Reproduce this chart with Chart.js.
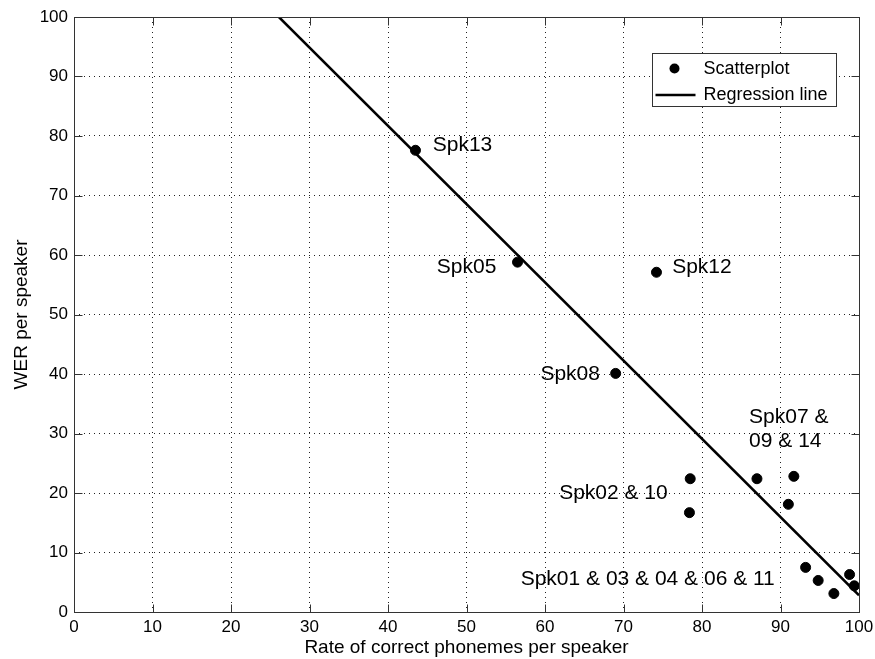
<!DOCTYPE html>
<html lang="en">
<head>
<meta charset="UTF-8">
<title>WER per speaker</title>
<script src="https://cdn.jsdelivr.net/npm/chart.js"></script>
<style>
  html, body { margin: 0; padding: 0; background: #fff; }
  canvas { display: block; }
</style>
</head>
<body>
<canvas id="werChart" width="875" height="659"></canvas>
<script>
  // rate of correct phonemes (%) and word error rate (%) for each speaker
  const phonemeRate = [43.5, 56.5, 74.2, 69.0, 78.5, 78.4, 87.0, 91.7, 91.0, 93.2, 94.8, 96.8, 98.8, 99.4];
  const werValues   = [77.6, 58.8, 57.1, 40.1, 22.4, 16.7, 22.4, 22.8, 18.1, 7.5, 5.3, 3.1, 6.3, 4.4];

  // end points of the fitted regression line
  const regX = [26.1, 100];
  const regY = [100, 2.8];

  const xTicks = [0, 10, 20, 30, 40, 50, 60, 70, 80, 90, 100];
  const yTicks = [0, 10, 20, 30, 40, 50, 60, 70, 80, 90, 100];

  // speaker labels placed in data units
  const labelTexts = ['Spk13', 'Spk05', 'Spk12', 'Spk08', 'Spk07 &\n09 & 14', 'Spk02 & 10', 'Spk01 & 03 & 04 & 06 & 11'];
  const labelX     = [45.7, 53.8, 76.2, 67.0, 86.0, 61.8, 56.9];
  const labelY     = [78.4, 57.9, 57.9, 40.0, 32.8, 19.9, 5.5];
  const labelAlign = ['left', 'right', 'left', 'right', 'left', 'left', 'left'];

  const FONT = "'Liberation Sans', Arial, sans-serif";
  Chart.defaults.font.family = FONT;
  Chart.defaults.color = '#000';

  const px = v => Math.round(v) + 0.5;

  // text next to the points
  const speakerText = {
    id: 'speakerText',
    afterDatasetsDraw(chart) {
      const {ctx, scales: {x, y}} = chart;
      ctx.save();
      ctx.font = '21px ' + FONT;
      ctx.fillStyle = '#000';
      ctx.textBaseline = 'middle';
      labelTexts.forEach((t, i) => {
        ctx.textAlign = labelAlign[i];
        const lx = x.getPixelForValue(labelX[i]);
        const ly = y.getPixelForValue(labelY[i]);
        t.split('\n').forEach((line, j) => ctx.fillText(line, lx, ly + j * 24));
      });
      ctx.restore();
    }
  };

  // box around the axes, inward tick marks and the legend
  const axesBox = {
    id: 'axesBox',
    afterDraw(chart) {
      const {ctx, chartArea: a, scales: {x, y}} = chart;
      const L = px(a.left), R = px(a.right), T = px(a.top), B = px(a.bottom);
      ctx.save();
      ctx.strokeStyle = '#333';
      ctx.lineWidth = 1;
      ctx.beginPath();
      const tl = 8;
      xTicks.forEach(v => {
        const p = px(x.getPixelForValue(v));
        ctx.moveTo(p, B); ctx.lineTo(p, B - tl);
        ctx.moveTo(p, T); ctx.lineTo(p, T + tl);
      });
      yTicks.forEach(v => {
        const p = px(y.getPixelForValue(v));
        ctx.moveTo(L, p); ctx.lineTo(L + tl, p);
        ctx.moveTo(R, p); ctx.lineTo(R - tl, p);
      });
      ctx.stroke();
      ctx.strokeRect(L, T, R - L, B - T);

      // legend
      const bx = px(a.right - 207), by = px(a.top + 36), bw = 184, bh = 53;
      ctx.fillStyle = '#fff';
      ctx.fillRect(bx, by, bw, bh);
      ctx.strokeRect(bx, by, bw, bh);
      const ds = chart.data.datasets;
      ctx.fillStyle = ds[0].backgroundColor;
      ctx.beginPath();
      ctx.arc(bx + 22, by + 15, 5, 0, Math.PI * 2);
      ctx.fill();
      ctx.strokeStyle = ds[1].borderColor;
      ctx.lineWidth = ds[1].borderWidth;
      ctx.beginPath();
      ctx.moveTo(bx + 3, by + 41.5);
      ctx.lineTo(bx + 43, by + 41.5);
      ctx.stroke();
      ctx.fillStyle = '#000';
      ctx.font = '18px ' + FONT;
      ctx.textAlign = 'left';
      ctx.textBaseline = 'middle';
      ctx.fillText(ds[0].label, bx + 51, by + 16);
      ctx.fillText(ds[1].label, bx + 51, by + 42);
      ctx.restore();
    }
  };

  const axisOpts = (ticks, title, fit) => ({
    type: 'linear',
    min: 0,
    max: 100,
    afterBuildTicks: s => { s.ticks = ticks.map(v => ({ value: v })); },
    afterFit: fit,
    grid: { color: '#222', lineWidth: 1, drawTicks: false },
    border: { display: false, dash: [1, 4] },
    ticks: { font: { size: 17 }, color: '#000' },
    title: { display: true, text: title, font: { size: 19 }, color: '#000' }
  });

  // fixed axis sizes; the layout padding alone sets the plot edges
  const xAxis = axisOpts(xTicks, 'Rate of correct phonemes per speaker', s => {
    s.height = 47;
    s.paddingLeft = 0;
    s.paddingRight = 0;
  });
  xAxis.ticks.padding = 5;
  xAxis.title.padding = { top: 0, bottom: 0 };

  const yAxis = axisOpts(yTicks, 'WER per speaker', s => {
    s.width = 74;
    s.paddingTop = 0;
    s.paddingBottom = 0;
  });
  yAxis.ticks.padding = 6;
  yAxis.title.padding = { top: 10, bottom: 0 };

  new Chart(document.getElementById('werChart'), {
    type: 'scatter',
    data: {
      datasets: [{
        label: 'Scatterplot',
        data: phonemeRate.map((v, i) => ({ x: v, y: werValues[i] })),
        backgroundColor: '#000',
        borderColor: '#000',
        pointRadius: 5,
        pointHoverRadius: 5,
        order: 1
      }, {
        label: 'Regression line',
        data: regX.map((v, i) => ({ x: v, y: regY[i] })),
        showLine: true,
        borderColor: '#000',
        borderWidth: 2.5,
        pointRadius: 0,
        pointHoverRadius: 0,
        order: 2
      }]
    },
    options: {
      responsive: false,
      animation: false,
      layout: { padding: { top: 17, right: 16, left: 0, bottom: 0 } },
      plugins: { legend: { display: false }, tooltip: { enabled: false } },
      scales: { x: xAxis, y: yAxis }
    },
    plugins: [speakerText, axesBox]
  });
</script>
</body>
</html>
